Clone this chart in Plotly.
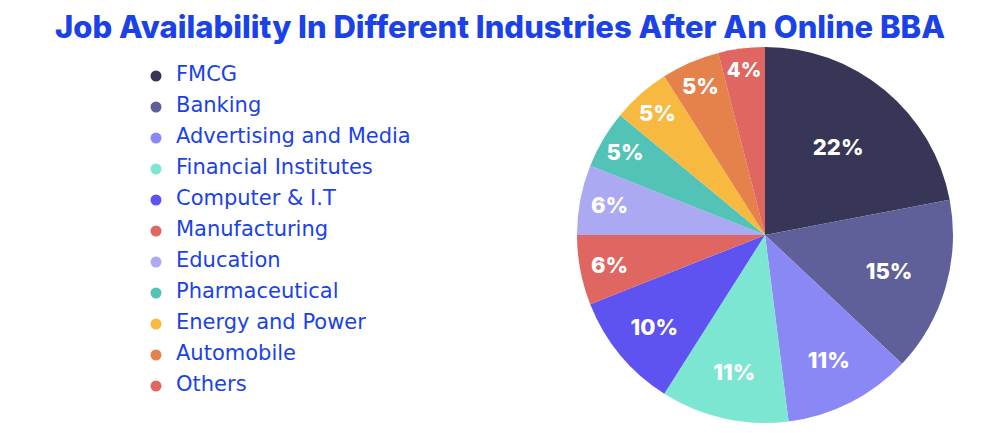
import plotly.graph_objects as go

categories = ["FMCG", "Banking", "Advertising and Media", "Financial Institutes",
              "Computer & I.T", "Manufacturing", "Education", "Pharmaceutical",
              "Energy and Power", "Automobile", "Others"]
shares = [22, 15, 11, 11, 10, 6, 6, 5, 5, 5, 4]
colors = ["#373657", "#5f5f99", "#8a88f5", "#7de6d3", "#5e52f1", "#df6661",
          "#aaa9f2", "#53c3b7", "#f7b93f", "#e5814a", "#df6661"]

W, H = 1000, 433
BLUE = "#1a42e6"
TITLE_FONT = "Inter, Open Sans, sans-serif"
LEGEND_FONT = "DejaVu Sans, Open Sans, sans-serif"

fig = go.Figure()

fig.add_trace(go.Pie(
    labels=categories, values=shares, sort=False, direction="clockwise",
    rotation=0, marker=dict(colors=colors, line=dict(width=0)),
    texttemplate="%{value}%", textinfo="text", textposition="inside",
    insidetextorientation="horizontal",
    textfont=dict(color="white", size=22, family=TITLE_FONT, weight=800),
    domain=dict(x=[577 / W, 953 / W], y=[1 - 423 / H, 1 - 47 / H]),
    showlegend=False, hoverinfo="label+percent",
))

# custom legend: circle markers + text, on hidden axes mapped to pixels
idx = list(range(len(categories)))
fig.add_trace(go.Scatter(
    x=[0] * len(categories), y=idx, mode="markers",
    marker=dict(color=colors, size=11), showlegend=False, hoverinfo="skip",
    xaxis="x", yaxis="y",
))
fig.add_trace(go.Scatter(
    x=[1] * len(categories), y=idx, mode="text", text=categories,
    textposition="middle right",
    textfont=dict(color=BLUE, size=21, family=LEGEND_FONT),
    showlegend=False, hoverinfo="skip", xaxis="x", yaxis="y",
))

x0, dx = 156, 20      # pixel of x=0, pixels per x unit
y0, dy = 76, 31       # pixel of first row, row spacing
fig.update_layout(
    width=W, height=H,
    margin=dict(l=0, r=0, t=0, b=0),
    paper_bgcolor="white", plot_bgcolor="rgba(0,0,0,0)",
    title=dict(text="Job Availability In Different Industries After An Online BBA",
               x=0.5, xanchor="center", y=1 - 27 / H, yanchor="middle",
               font=dict(color=BLUE, size=31, family=TITLE_FONT, weight=800)),
    xaxis=dict(domain=[0, 1], range=[-x0 / dx, (W - x0) / dx], visible=False,
               fixedrange=True),
    yaxis=dict(domain=[0, 1], range=[(H - y0) / dy, -y0 / dy], visible=False,
               fixedrange=True),
)

fig.write_html("out.html", config={"displayModeBar": False},
               post_script="document.body.style.margin='0';")
